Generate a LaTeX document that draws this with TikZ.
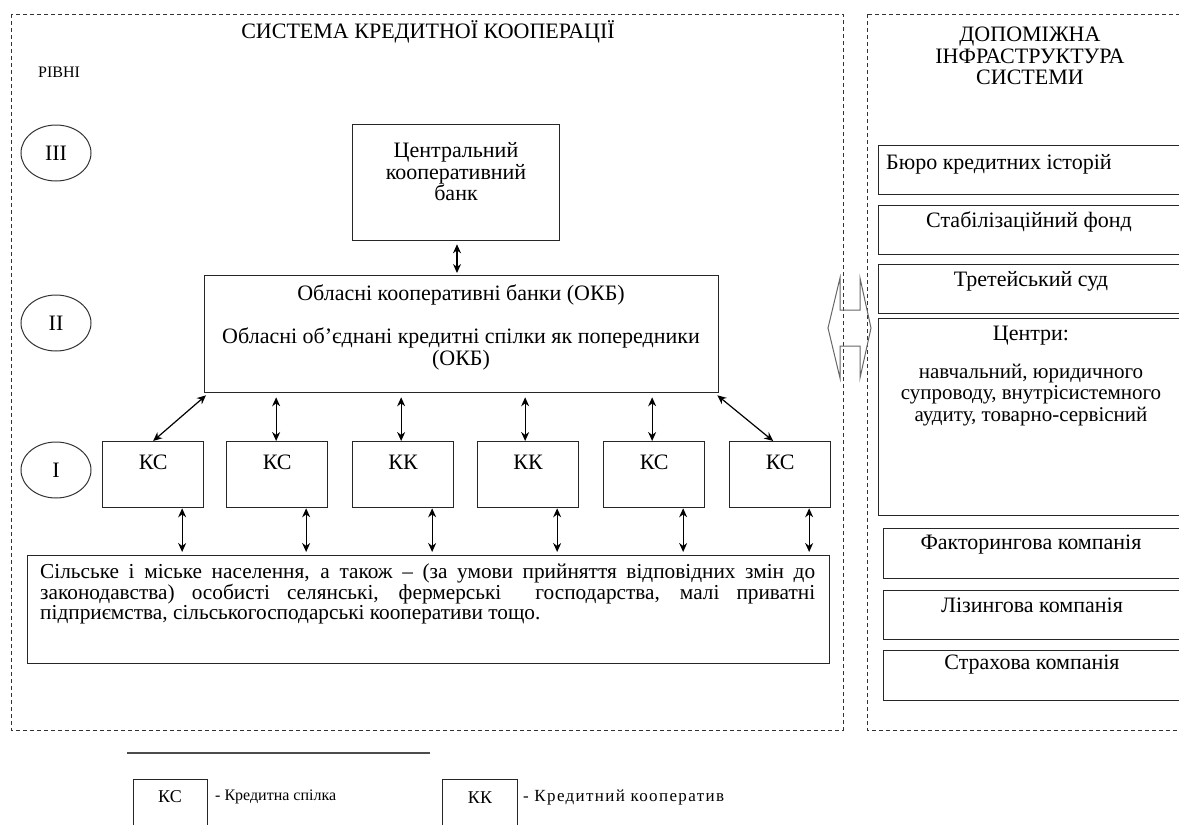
\documentclass[tikz,border=0pt]{standalone}
\usepackage{fontspec}
\setmainfont{Liberation Serif}
\usetikzlibrary{arrows.meta,shapes.geometric}
\begin{document}
\begin{tikzpicture}[x=1pt,y=-1pt,
  box/.style={draw=black!85, line width=1.3pt, inner sep=0, anchor=north west},
  frame/.style={draw=black!80, line width=1pt, dash pattern=on 4pt off 3pt},
  dbl/.style={{Stealth[length=9pt,width=8pt]}-{Stealth[length=9pt,width=8pt]}, line width=1.2pt, black},
  big/.style={font=\fontsize{22}{21.5}\selectfont, inner sep=0, align=center},
  mid/.style={font=\fontsize{16}{18.5}\selectfont, inner sep=0},
  poptext/.style={font=\fontsize{21.3}{18.6}\selectfont, inner sep=0},
  lvl/.style={draw=black!80, line width=1pt, ellipse, minimum width=70pt, minimum height=56pt, inner sep=0, font=\fontsize{22}{21.5}\selectfont}
]
\useasboundingbox (0,0) rectangle (1179,825);
\clip (0,0) rectangle (1179,825);

% frames
\draw[frame] (11,14) rectangle (843,730);
\draw[frame] (867,14) rectangle (1200,730);

% titles
\node[big] (title) at (428,32) {СИСТЕМА КРЕДИТНОЇ КООПЕРАЦІЇ};
\node[big] (rtitle) at (1030,56) {ДОПОМІЖНА\\ІНФРАСТРУКТУРА\\СИСТЕМИ};
\node[mid, anchor=west] (levels) at (38,72) {РІВНІ};

% level ellipses
\node[lvl] (l3) at (56,153) {III};
\node[lvl] (l2) at (56,323) {II};
\node[lvl] (l1) at (56,470) {I};

% central bank
\node[box, minimum width=207pt, minimum height=116pt] (cb) at (352,124) {};
\node[big] (cbt) at (456,172) {Центральний\\кооперативний\\банк};

% regional banks
\node[box, minimum width=514pt, minimum height=117pt] (obl) at (204,275) {};
\node[big] (oblt1) at (461,295) {Обласні кооперативні банки (ОКБ)};
\node[big] (oblt2) at (461,349) {Обласні об’єднані кредитні спілки як попередники\\(ОКБ)};

% level I boxes
\foreach \n/\x/\t in {1/102/КС,2/226/КС,3/352/КК,4/477/КК,5/603/КС,6/729/КС}{
  \node[box, minimum width=101pt, minimum height=66pt] (k\n) at (\x,441) {};
  \node[big] (k\n t) at ([yshift=-21pt]k\n.north) {\t};
}

% population box
\node[box, minimum width=802pt, minimum height=108pt] (pop) at (27,555) {};
\node[poptext, anchor=north west, align=left] (popt) at (40,564) {%
\makebox[775pt][s]{Сільське і міське населення, а також – (за умови прийняття відповідних змін до}\\
\makebox[775pt][s]{законодавства) особисті селянські, фермерські\ \ господарства, малі приватні}\\
підприємства, сільськогосподарські кооперативи тощо.};

% arrows
\draw[dbl] ([yshift=-3pt]cb.south -| 457,0) -- ([yshift=2pt]obl.north -| 457,0);
\draw[dbl] ([shift={(2pt,-2pt)}]obl.south west) -- (k1.north);
\foreach \n/\dx in {2/-1,3/-2,4/-3,5/-2}{
  \draw[dbl] ([xshift=\dx pt,yshift=-4pt]k\n.north |- obl.south) -- ([xshift=\dx pt]k\n.north);
}
\draw[dbl] ([shift={(-2pt,-2pt)}]obl.south east) -- ([xshift=-7pt]k6.north);
\foreach \n in {1,...,6}{
  \draw[dbl] ([xshift=29pt]k\n.south) -- ([xshift=29pt,yshift=3pt]k\n.south |- pop.north);
}

% double arrow between systems
\draw[black!60, line width=1pt] (828,328) -- (840,278) -- (840,310) -- (860,310) -- (860,278)
  -- (871,328) -- (860,378) -- (860,346) -- (840,346) -- (840,378) -- cycle;

% infrastructure
\node[box, minimum width=320pt, minimum height=49pt] (r1) at (878,145) {};
\node[big, anchor=west] (r1t) at (886,164) {Бюро кредитних історій};
\node[box, minimum width=320pt, minimum height=49pt] (r2) at (878,205) {};
\node[big] (r2t) at (1029,222) {Стабілізаційний фонд};
\node[box, minimum width=320pt, minimum height=49pt] (r3) at (878,264) {};
\node[big] (r3t) at (1031,281) {Третейський суд};
\node[box, minimum width=320pt, minimum height=197pt] (r4) at (878,318) {};
\node[big] (r4t) at (1031,336) {Центри:};
\node[big, font=\fontsize{21}{21.5}\selectfont] (r4l) at (1031,395) {навчальний, юридичного\\супроводу, внутрісистемного\\аудиту, товарно-сервісний};
\node[box, minimum width=320pt, minimum height=50pt] (r5) at (883,528) {};
\node[big] (r5t) at (1031,545) {Факторингова компанія};
\node[box, minimum width=320pt, minimum height=49pt] (r6) at (883,590) {};
\node[big] (r6t) at (1032,605) {Лізингова компанія};
\node[box, minimum width=320pt, minimum height=50pt] (r7) at (883,650) {};
\node[big] (r7t) at (1032,665) {Страхова компанія};

% legend
\draw[black!70, line width=1.5pt] (127,753) coordinate (la) -- (430,753) coordinate (lb);
\node[box, draw=black!85, line width=1pt, minimum width=74pt, minimum height=60pt] (lg1) at (133,779) {};
\node[font=\fontsize{18}{20}\selectfont, inner sep=0] (lg1t) at (170,797) {КС};
\node[font=\fontsize{16}{18}\selectfont, inner sep=0, anchor=west] (lg1d) at (215,797) {- Кредитна спілка};
\node[box, draw=black!85, line width=1pt, minimum width=75pt, minimum height=60pt] (lg2) at (442,779) {};
\node[font=\fontsize{18}{20}\selectfont, inner sep=0] (lg2t) at (480,798) {КК};
\node[font=\fontsize{17}{18}\selectfont\addfontfeature{LetterSpace=8}, inner sep=0, anchor=west] (lg2d) at (523,797) {- Кредитний кооператив};
\end{tikzpicture}
\end{document}
